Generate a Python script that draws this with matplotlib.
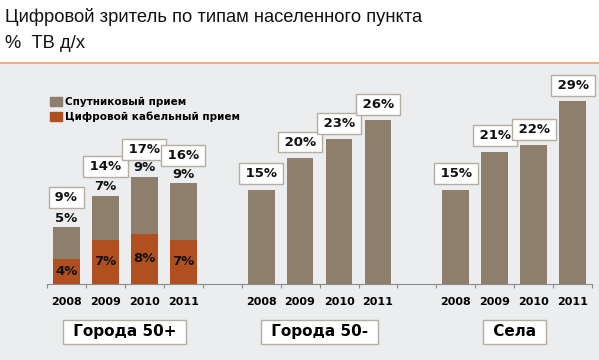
import matplotlib
matplotlib.use("Agg")
import matplotlib.pyplot as plt
from matplotlib.patches import Rectangle
from matplotlib.lines import Line2D

# data
years = ["2008", "2009", "2010", "2011"]
groups = ["Города 50+", "Города 50-", "Села"]
cable_big = [4, 7, 8, 7]          # Цифровой кабельный прием, Города 50+
satellite_big = [5, 7, 9, 9]      # Спутниковый прием, Города 50+
total_big = [9, 14, 17, 16]
total_small = [15, 20, 23, 26]    # Города 50-
total_village = [15, 21, 22, 29]  # Села

SAT_COLOR = "#8e7f6d"
CAB_COLOR = "#b0501f"
BG = "#ebedef"
EDGE = "#b5aca2"

plt.rcParams["font.family"] = ["DejaVu Sans"]

fig = plt.figure(figsize=(5.99, 3.6), dpi=100)
fig.patch.set_facecolor("white")
fig.patches.append(Rectangle((0, 0), 1, 0.825, transform=fig.transFigure,
                             facecolor=BG, edgecolor="none", zorder=-10))
fig.add_artist(Line2D([0, 1], [0.826, 0.826], transform=fig.transFigure,
                      color="#f0a070", linewidth=1.2))

fig.text(0.008, 0.952, "Цифровой зритель по типам населенного пункта",
         fontsize=13.2, family="Liberation Sans", va="center", ha="left", color="#111111")
fig.text(0.008, 0.88, "%  ТВ д/х", fontsize=13.2, family="Liberation Sans",
         va="center", ha="left", color="#111111")

ax = fig.add_axes([0.078, 0.2111, 0.9109, 0.6125])
ax.set_facecolor("none")
ax.set_xlim(-0.5, 13.5)
ax.set_ylim(0, 35)

width = 0.69
thin = "\u2009"
box = dict(boxstyle="square,pad=0.3", facecolor="white", edgecolor=EDGE, linewidth=1)
lbl = dict(fontsize=9.5, fontweight="bold", ha="center", va="center", color="#111111")

# Города 50+
x_big = [0, 1, 2, 3]
ax.bar(x_big, cable_big, width, color=CAB_COLOR, zorder=2)
ax.bar(x_big, satellite_big, width, bottom=cable_big, color=SAT_COLOR, zorder=2)
box_off = [30, 29.5, 27, 28]
for x, c, s, t, off in zip(x_big, cable_big, satellite_big, total_big, box_off):
    ax.text(x, c / 2, f"{c}%", **lbl)
    ax.annotate(f"{s}%", (x, c + s), xytext=(0, 6.5), textcoords="offset points", **lbl)
    ax.annotate(f"{thin}{t}%{thin}", (x, c + s), xytext=(0, off * 0.72),
                textcoords="offset points", bbox=box, **lbl)

# Города 50- and Села
for xs, vals in (([5, 6, 7, 8], total_small), ([10, 11, 12, 13], total_village)):
    ax.bar(xs, vals, width, color=SAT_COLOR, zorder=2)
    for x, v in zip(xs, vals):
        ax.annotate(f"{thin}{v}%{thin}", (x, v), xytext=(0, 11.5),
                    textcoords="offset points", bbox=box, **lbl)

# axis
for side in ("left", "right", "top"):
    ax.spines[side].set_visible(False)
ax.spines["bottom"].set_color("#8a8a8a")
ax.set_yticks([])
ax.set_xticks([i - 0.5 for i in range(15)])
ax.set_xticklabels([])
ax.tick_params(axis="x", which="major", direction="out", length=3, color="#8a8a8a")
centers = x_big + [5, 6, 7, 8] + [10, 11, 12, 13]
ax.set_xticks(centers, minor=True)
ax.set_xticklabels(years * 3, minor=True, fontsize=8, fontweight="bold")
ax.tick_params(axis="x", which="minor", length=0, pad=9)

# group labels
for xc, name in zip([1.5, 6.5, 11.5], groups):
    ax.annotate(f" {name} ", (xc, 0), xytext=(0, -34.5), textcoords="offset points",
                fontsize=11, fontweight="bold", ha="center", va="center",
                bbox=dict(boxstyle="square,pad=0.32", facecolor="white",
                          edgecolor=EDGE, linewidth=1), annotation_clip=False)

# legend
handles = [Rectangle((0, 0), 1, 1, color=SAT_COLOR), Rectangle((0, 0), 1, 1, color=CAB_COLOR)]
fig.legend(handles, ["Спутниковый прием", "Цифровой кабельный прием"],
           loc="upper left", bbox_to_anchor=(0.075, 0.745), frameon=False,
           prop=dict(size=7.5, weight="bold"), handlelength=1.1, handleheight=0.9,
           handletextpad=0.3, labelspacing=0.45, borderpad=0)

fig.savefig("out.png", dpi=100)
